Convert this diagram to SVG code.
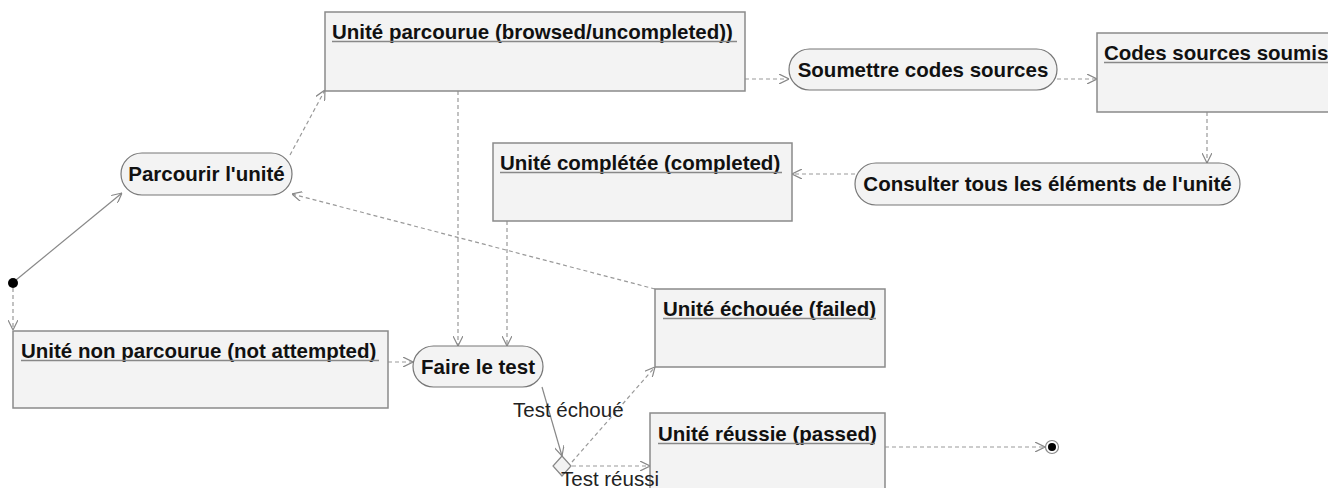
<svg xmlns="http://www.w3.org/2000/svg" width="1328" height="488" viewBox="0 0 1328 488">
<style>
.box{fill:#f3f3f3;stroke:#8a8a8a;stroke-width:1.5}
.pill{fill:#f3f3f3;stroke:#777;stroke-width:1.2}
.t{font-family:"Liberation Sans",Arial,sans-serif;font-weight:bold;font-size:20.5px;fill:#111}
.l{font-family:"Liberation Sans",Arial,sans-serif;font-size:20.5px;fill:#222}
.ul{stroke:#888;stroke-width:1.5}
.d{fill:none;stroke:#999;stroke-width:1.2;stroke-dasharray:4 3}
.s{fill:none;stroke:#888;stroke-width:1.2}
</style>
<defs>
<marker id="a" viewBox="0 0 10 10" refX="10" refY="5" markerWidth="10" markerHeight="10" markerUnits="userSpaceOnUse" orient="auto">
<path d="M0,0 L10,5 L0,10" fill="none" stroke="#888" stroke-width="1.2"/>
</marker>
</defs>
<g id="connectors">
<path class="s" d="M16,280 L122,193" marker-end="url(#a)"/>
<path class="d" d="M13,288 L13,330" marker-end="url(#a)"/>
<path class="d" d="M290,155 L325,90" marker-end="url(#a)"/>
<path class="d" d="M745,79 L789,79" marker-end="url(#a)"/>
<path class="d" d="M1057,79 L1097,79" marker-end="url(#a)"/>
<path class="d" d="M1207,112 L1207,163" marker-end="url(#a)"/>
<path class="d" d="M855,174 L792,174" marker-end="url(#a)"/>
<path class="d" d="M458,91 L458,346" marker-end="url(#a)"/>
<path class="d" d="M507,221 L507,346" marker-end="url(#a)"/>
<path class="d" d="M655,289 L292,194" marker-end="url(#a)"/>
<path class="d" d="M388,362 L413,362" marker-end="url(#a)"/>
<path class="s" d="M542,387 L562,456" marker-end="url(#a)"/>
<path class="d" d="M572,462 L655,367" marker-end="url(#a)"/>
<path class="d" d="M572,466 L650,466" marker-end="url(#a)"/>
<path class="d" d="M885,447 L1045,447" marker-end="url(#a)"/>
</g>
<g id="initial"><circle cx="13" cy="283" r="5" fill="#000"/></g>
<g id="parcourir">
<rect class="pill" x="121" y="153" width="171" height="42" rx="21"/>
<text class="t" x="206.5" y="181" text-anchor="middle">Parcourir l'unité</text>
</g>
<g id="unite-parcourue">
<rect class="box" x="325" y="12" width="420" height="79"/>
<text class="t" x="332" y="39">Unité parcourue (browsed/uncompleted))</text>
<line class="ul" x1="332" y1="41.5" x2="737" y2="41.5"/>
</g>
<g id="soumettre">
<rect class="pill" x="789" y="49" width="268" height="41" rx="20.5"/>
<text class="t" x="923" y="77" text-anchor="middle">Soumettre codes sources</text>
</g>
<g id="codes-soumis">
<rect class="box" x="1097" y="33" width="240" height="79"/>
<text class="t" x="1104" y="60">Codes sources soumis</text>
<line class="ul" x1="1104" y1="62.5" x2="1328" y2="62.5"/>
</g>
<g id="consulter">
<rect class="pill" x="855" y="163" width="385" height="42" rx="21"/>
<text class="t" x="1047.5" y="191" text-anchor="middle">Consulter tous les éléments de l'unité</text>
</g>
<g id="unite-completee">
<rect class="box" x="493" y="143" width="299" height="78"/>
<text class="t" x="500" y="170">Unité complétée (completed)</text>
<line class="ul" x1="500" y1="172.5" x2="782" y2="172.5"/>
</g>
<g id="unite-non-parcourue">
<rect class="box" x="13" y="331" width="375" height="77"/>
<text class="t" x="21" y="358">Unité non parcourue (not attempted)</text>
<line class="ul" x1="21" y1="360.5" x2="379" y2="360.5"/>
</g>
<g id="faire-test">
<rect class="pill" x="413" y="346" width="130" height="41" rx="20.5"/>
<text class="t" x="478" y="374" text-anchor="middle">Faire le test</text>
</g>
<g id="unite-echouee">
<rect class="box" x="655" y="289" width="230" height="78"/>
<text class="t" x="663" y="316">Unité échouée (failed)</text>
<line class="ul" x1="663" y1="318.5" x2="876" y2="318.5"/>
</g>
<g id="decision">
<path d="M562,456 L571,466 L562,476 L553,466 Z" fill="#f3f3f3" stroke="#888" stroke-width="1.2"/>
</g>
<g id="unite-reussie">
<rect class="box" x="650" y="413" width="235" height="90"/>
<text class="t" x="658" y="441">Unité réussie (passed)</text>
<line class="ul" x1="658" y1="443.5" x2="875" y2="443.5"/>
</g>
<g id="final">
<circle cx="1052" cy="447" r="6.5" fill="#fff" stroke="#888" stroke-width="1.2"/>
<circle cx="1052" cy="447" r="4" fill="#000"/>
</g>
<g id="connector-labels">
<text class="l" x="513" y="417">Test échoué</text>
<text class="l" x="561" y="486">Test réussi</text>
</g>
</svg>
